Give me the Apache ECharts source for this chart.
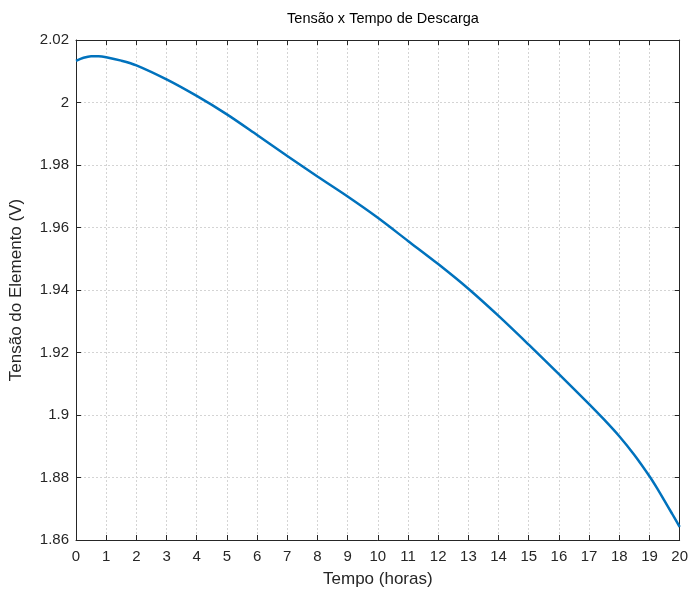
<!DOCTYPE html>
<html>
<head>
<meta charset="utf-8">
<script src="https://cdn.jsdelivr.net/npm/echarts@6/dist/echarts.min.js"></script>
<style>
  html, body { margin: 0; padding: 0; background: #fff; }
  #main { width: 691px; height: 593px; }
</style>
</head>
<body>
<div id="main"></div>
<script>
// tempo (horas) e tensão
var tempo = [0, 0.25, 0.5, 0.75, 1, 1.5, 2, 3, 4, 5, 6, 7, 8, 9, 10, 11, 12, 13, 14, 15, 16, 17, 17.5, 18, 18.5, 19, 19.25, 19.5, 19.75, 20];
var tensao = [2.0133, 2.0143, 2.0148, 2.0148, 2.0145, 2.0134, 2.0119, 2.0074, 2.0021, 1.9962, 1.9896, 1.9829, 1.9763, 1.9699, 1.9631, 1.9557, 1.9483, 1.9404, 1.9317, 1.9225, 1.9131, 1.9035, 1.8985, 1.8932, 1.8872, 1.8804, 1.8766, 1.8725, 1.8684, 1.8642];

var xTicks = [0, 20, 1];
var yTicks = [1.86, 2.02, 0.02];

var pontos = [];
for (var i = 0; i < tempo.length; i++) {
    pontos.push([tempo[i], tensao[i]]);
}

var fonte = '"Liberation Sans", Arial, Helvetica, sans-serif';
var corTexto = '#262626';

var myChart = echarts.init(document.getElementById('main'));

var eixoBase = {
    type: 'value',
    axisLine: { show: true, onZero: false, lineStyle: { color: '#262626', width: 1 } },
    axisTick: { show: true, inside: true, length: 5, lineStyle: { color: '#262626' } }
};

myChart.setOption({
    animation: false,
    backgroundColor: '#fff',
    title: {
        text: 'Tensão x Tempo de Descarga',
        left: 378,
        top: 6,
        textAlign: 'center',
        textStyle: { fontFamily: fonte, fontSize: 14.5, fontWeight: 'normal', color: '#000' }
    },
    grid: { left: 74, right: 9, top: 40, bottom: 52 },
    xAxis: [
        Object.assign({}, eixoBase, {
            min: xTicks[0], max: xTicks[1], interval: xTicks[2],
            position: 'bottom',
            name: 'Tempo (horas)',
            nameLocation: 'middle',
            nameGap: 31,
            nameTextStyle: { fontFamily: fonte, fontSize: 17, color: corTexto },
            axisLabel: { fontFamily: fonte, fontSize: 15, color: corTexto, margin: 9 },
            splitLine: { show: true, lineStyle: { color: '#d4d4d4', type: [2, 2], width: 1 } }
        }),
        Object.assign({}, eixoBase, {
            min: xTicks[0], max: xTicks[1], interval: xTicks[2],
            position: 'top',
            axisLabel: { show: false },
            splitLine: { show: false }
        })
    ],
    yAxis: [
        Object.assign({}, eixoBase, {
            min: yTicks[0], max: yTicks[1], interval: yTicks[2],
            position: 'left',
            name: 'Tensão do Elemento (V)',
            nameLocation: 'middle',
            nameGap: 51,
            nameTextStyle: { fontFamily: fonte, fontSize: 17, color: corTexto },
            axisLabel: {
                fontFamily: fonte, fontSize: 15, color: corTexto, margin: 7,
                formatter: function (v) { return String(parseFloat(v.toFixed(2))); }
            },
            splitLine: { show: true, lineStyle: { color: '#d4d4d4', type: [2, 2], width: 1 } }
        }),
        Object.assign({}, eixoBase, {
            min: yTicks[0], max: yTicks[1], interval: yTicks[2],
            position: 'right',
            axisLabel: { show: false },
            splitLine: { show: false }
        })
    ],
    series: [{
        type: 'line',
        data: pontos,
        smooth: 0.3,
        showSymbol: false,
        lineStyle: { color: '#0072BD', width: 2.5 },
        clip: true
    }]
});
</script>
</body>
</html>
